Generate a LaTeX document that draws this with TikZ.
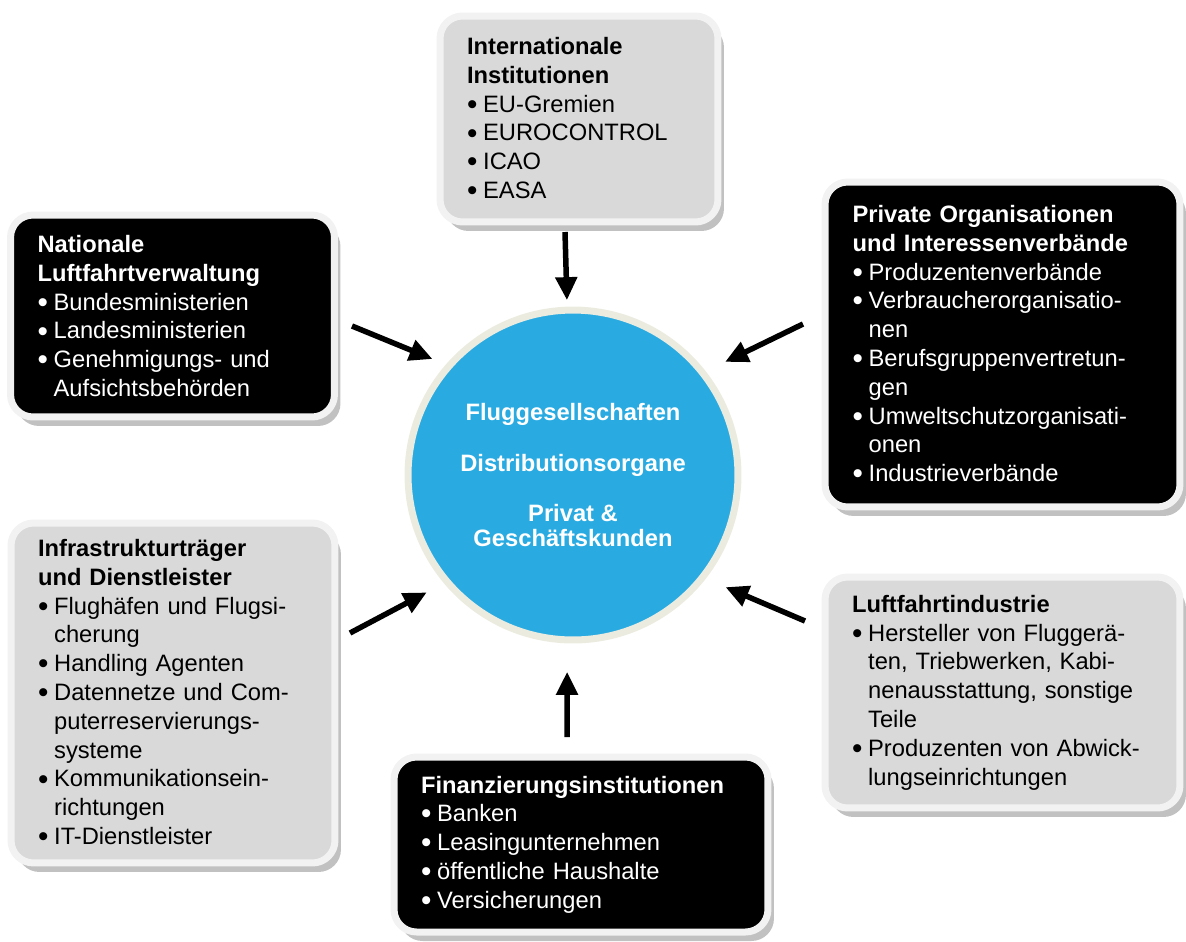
\documentclass[tikz,border=0pt]{standalone}
\usepackage{fontspec}
\setmainfont{Liberation Sans}
\usetikzlibrary{arrows.meta,shadows}

\definecolor{boxgray}{HTML}{D9D9D9}
\definecolor{rimgray}{HTML}{F2F2F2}
\definecolor{hubblue}{HTML}{29ABE2}
\definecolor{hubrim}{HTML}{EBEBE0}

% bullet and hanging continuation
\newcommand{\blt}{\makebox[0.68em][l]{\raisebox{-0.09em}{\scalebox{1.25}{\textbullet}}}}
\newcommand{\bltc}{\hspace*{0.68em}}

\begin{document}
\begin{tikzpicture}
[x=0.02cm, y=-0.02cm,
font=\fontsize{13.5}{16.4}\selectfont,
panel/.style={rectangle, rounded corners=0.45cm, draw=rimgray, line width=0.14cm,
  inner xsep=0.54cm, inner ysep=0pt, align=left,
  drop shadow={shadow xshift=0.12cm, shadow yshift=-0.18cm, fill=gray!60, opacity=0.8}},
graybox/.style={panel, fill=boxgray, text=black},
blackbox/.style={panel, fill=black, text=white},
hub/.style={circle, fill=hubblue, draw=hubrim, line width=0.14cm, minimum size=6.6cm,
  inner sep=0pt, align=center, text=white, font=\fontsize{13.5}{14.2}\selectfont\bfseries},
flow/.style={-{Triangle[length=0.46cm, width=0.42cm]}, line width=0.11cm, draw=black}]

\useasboundingbox (0,0) rectangle (1186,941);

\node[hub] (hub) at (573,475) {Fluggesellschaften\\[15pt]Distributionsorgane\\[14pt]Privat \&\\Geschäftskunden};

\node[graybox, minimum width=5.56cm, minimum height=4.12cm, text width=4.48cm] (intl) at (579,119)
  {\textbf{Internationale}\\\textbf{Institutionen}\\\blt EU-Gremien\\\blt EUROCONTROL\\\blt ICAO\\\blt EASA};

\node[blackbox, minimum width=6.42cm, minimum height=4.04cm, text width=5.40cm] (nat) at (172.5,316)
  {\textbf{Nationale}\\\textbf{Luftfahrtverwaltung}\\\blt Bundesministerien\\\blt Landesministerien\\
   \blt Genehmigungs- und\\\bltc Aufsichtsbehörden};

\node[blackbox, minimum width=7.10cm, minimum height=6.50cm, text width=6.00cm] (priv) at (1002.5,344.5)
  {\textbf{Private Organisationen}\\\textbf{und Interessenverbände}\\\blt Produzentenverbände\\
   \blt Verbraucherorganisatio-\\\bltc nen\\\blt Berufsgruppenvertretun-\\\bltc gen\\
   \blt Umweltschutzorganisati-\\\bltc onen\\\blt Industrieverbände};

\node[graybox, minimum width=6.40cm, minimum height=6.80cm, text width=5.40cm] (infra) at (173,693)
  {\textbf{Infrastrukturträger}\\\textbf{und Dienstleister}\\\blt Flughäfen und Flugsi-\\\bltc cherung\\
   \blt Handling Agenten\\\blt Datennetze und Com-\\\bltc puterreservierungs-\\\bltc systeme\\
   \blt Kommunikationsein-\\\bltc richtungen\\\blt IT-Dienstleister};

\node[blackbox, minimum width=7.44cm, minimum height=3.50cm, text width=6.40cm] (fin) at (581,844.5)
  {\textbf{Finanzierungsinstitutionen}\\\blt Banken\\\blt Leasingunternehmen\\\blt öffentliche Haushalte\\
   \blt Versicherungen};

\node[graybox, minimum width=7.10cm, minimum height=4.62cm, text width=6.02cm] (luft) at (1002.5,692.5)
  {\textbf{Luftfahrtindustrie}\\\blt Hersteller von Flugger\"a-\\\bltc ten, Triebwerken, Kabi-\\
   \bltc nenausstattung, sonstige\\\bltc Teile\\\blt Produzenten von Abwick-\\\bltc lungseinrichtungen};

% arrow tails
\coordinate (tIntl) at (565,232);
\coordinate (tNat) at (352,326);
\coordinate (tPriv) at (803,324);
\coordinate (tInfra) at (350,633);
\coordinate (tLuft) at (805,621);
\coordinate (tFin) at (567,737);

\draw[flow, shorten >=0.13cm] (tIntl) -- (hub.92.6);
\draw[flow, shorten >=0.29cm] (tNat) -- (hub.139.9);
\draw[flow, shorten >=0.43cm] (tPriv) -- (hub.38);
\draw[flow, shorten >=0.39cm] (tInfra) -- (hub.220.5);
\draw[flow, shorten >=0.43cm] (tLuft) -- (hub.322);
\draw[flow, shorten >=0.57cm] (tFin) -- (hub.268);

\end{tikzpicture}
\end{document}
